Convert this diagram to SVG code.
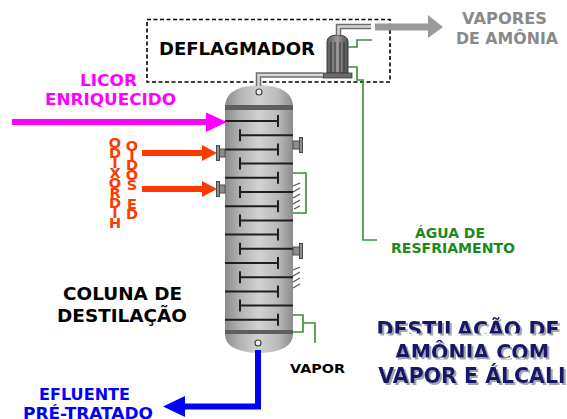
<svg xmlns="http://www.w3.org/2000/svg" width="567" height="419" viewBox="0 0 567 419">
  <defs>
    <linearGradient id="shell" x1="0" y1="0" x2="1" y2="0">
      <stop offset="0" stop-color="#8a8a8a"/>
      <stop offset="0.2" stop-color="#b0b0b0"/>
      <stop offset="0.5" stop-color="#d2d2d2"/>
      <stop offset="0.78" stop-color="#bababa"/>
      <stop offset="1" stop-color="#8c8c8c"/>
    </linearGradient>
    <linearGradient id="cond" x1="0" y1="0" x2="1" y2="0">
      <stop offset="0" stop-color="#5a5a5a"/>
      <stop offset="0.5" stop-color="#9a9a9a"/>
      <stop offset="1" stop-color="#4e4e4e"/>
    </linearGradient>
    <filter id="shadow" x="-5%" y="-20%" width="115%" height="150%">
      <feDropShadow dx="2" dy="2" stdDeviation="0.6" flood-color="#9a9aa4" flood-opacity="0.9"/>
    </filter>
    <clipPath id="cut1"><rect x="360" y="300" width="207" height="33.5"/></clipPath>
    <clipPath id="cut2"><rect x="360" y="338" width="207" height="19.5"/></clipPath>
    <style>
      text { font-family: "DejaVu Sans", Verdana, sans-serif; font-weight: bold; }
      .lbl { font-size: 17px; fill: #000; }
      .pipe-o { fill: none; stroke: #6e6e6e; stroke-width: 5.5; }
      .pipe-i { fill: none; stroke: #d6d6d6; stroke-width: 2.5; }
      .tray { stroke: #1e1e1e; stroke-width: 2; fill: none; }
      .water { fill: none; stroke: #3c8a3c; stroke-width: 1.6; }
      .flange { fill: #8c8c8c; stroke: #4a4a4a; stroke-width: 1; }
      .red { fill: #ff3a00; }
      .redtxt { font-size: 14.5px; fill: #ff3a00; text-anchor: middle; }
      .title { font-size: 20.5px; text-anchor: middle; fill: #16166a; }
    </style>
  </defs>

  <!-- deflagmador enclosure -->
  <g id="deflagmador">
    <rect x="147" y="19.5" width="243" height="62.5" fill="none" stroke="#000" stroke-width="1.6" stroke-dasharray="4,2.5"/>
    <text class="lbl" x="159" y="55" textLength="156" lengthAdjust="spacingAndGlyphs">DEFLAGMADOR</text>
    <!-- condenser -->
    <path d="M327,42 Q327,35 337.5,35 Q348,35 348,42 L348,73 L327,73 Z" fill="url(#cond)" stroke="#3e3e3e" stroke-width="1"/>
    <path d="M331,42 V73 M335,42 V73 M340,42 V73 M344,42 V73" stroke="#2e2e2e" stroke-width="1"/>
    <rect x="323" y="73" width="29" height="5" fill="#6a6a6a" stroke="#3e3e3e" stroke-width="0.8"/>
  </g>

  <!-- distillation column -->
  <g id="coluna">
    <path d="M225,107 Q225,86 259,85 Q293,86 293,107 L293,334 Q293,352 259,353 Q225,352 225,334 Z" fill="url(#shell)"/>
    <rect x="225" y="105" width="68" height="5" fill="#5e5e5e"/>
    <rect x="225" y="330" width="68" height="4" fill="#5e5e5e"/>
    <circle cx="259" cy="92" r="3" fill="#eee" stroke="#444" stroke-width="1.2"/>
    <circle cx="258" cy="343" r="3" fill="#eee" stroke="#444" stroke-width="1.2"/>
    <!-- trays -->
    <path class="tray" d="M225,121 H278 M278,115 V127
      M240,135.2 H293 M240,129.2 V141.2
      M225,149.4 H278 M278,143.4 V155.4
      M240,163.6 H293 M240,157.6 V169.6
      M225,177.8 H278 M278,171.8 V183.8
      M240,192 H293 M240,186 V198
      M225,206.2 H278 M278,200.2 V212.2
      M240,220.4 H293 M240,214.4 V226.4
      M225,234.6 H278 M278,228.6 V240.6
      M240,248.8 H293 M240,242.8 V254.8
      M225,263 H278 M278,257 V269
      M240,277.2 H293 M240,271.2 V283.2
      M225,291.4 H278 M278,285.4 V297.4
      M240,305.6 H293 M240,299.6 V311.6
      M225,319.8 H278 M278,313.8 V325.8"/>
    <!-- side nozzles -->
    <rect class="flange" x="219" y="149" width="6" height="8"/>
    <rect class="flange" x="216.5" y="145.5" width="3" height="15"/>
    <rect class="flange" x="219" y="185" width="6" height="8"/>
    <rect class="flange" x="216.5" y="181.5" width="3" height="15"/>
    <rect class="flange" x="293" y="141" width="7" height="8"/>
    <rect class="flange" x="299.5" y="137.5" width="3" height="15"/>
    <rect class="flange" x="293" y="247" width="7" height="8"/>
    <rect class="flange" x="299.5" y="243.5" width="3" height="15"/>
    <!-- hatched supports -->
    <path d="M293,186 L300,183 M293,192 L300,188 M293,198 L300,194 M293,204 L300,200 M294,209 L300,206" stroke="#555" stroke-width="1.3"/>
    <path d="M293,270 L300,267 M293,276 L300,272 M293,282 L300,278 M293,288 L300,284" stroke="#555" stroke-width="1.3"/>
  </g>

  <!-- connectors -->
  <g id="connectors">
    <!-- overhead vapour line -->
    <path class="pipe-o" d="M258.5,86 V75 H323"/>
    <path class="pipe-i" d="M258.5,86 V75 H323"/>
    <path class="pipe-o" d="M338.5,35 V26.5 H371"/>
    <path class="pipe-i" d="M338.5,35 V26.5 H371"/>
    <!-- ammonia vapour outlet -->
    <rect x="375" y="23.5" width="54" height="7" fill="#9a9a9a"/>
    <polygon points="428,15 443,27 428,38" fill="#9a9a9a"/>
    <!-- cooling water -->
    <path class="water" d="M348,47 H357 V40 H372"/>
    <path class="water" d="M348,67 H357 V80 H363 V240 H377"/>
    <path class="water" d="M293,173 H306 V213 H293"/>
    <path class="water" d="M293,315 H303 V332 H293 M303,323 H315 V343"/>
    <!-- feed liquor -->
    <rect x="12" y="119" width="196" height="6" fill="#ff00ff"/>
    <polygon points="206,112.5 227,122 206,132" fill="#ff00ff"/>
    <!-- alkali feeds -->
    <rect class="red" x="142" y="150" width="62" height="6"/>
    <polygon class="red" points="202,145 217,153 202,161"/>
    <rect class="red" x="142" y="186" width="62" height="6"/>
    <polygon class="red" points="202,181 217,189 202,197"/>
    <!-- pretreated effluent -->
    <path d="M258,350 V406.5 H180" fill="none" stroke="#0000ff" stroke-width="6"/>
    <polygon points="185,396 163,406.5 185,417" fill="#0000ff"/>
  </g>

  <!-- labels -->
  <g id="labels">
    <text x="80" y="86" font-size="16.5" fill="#ff00ff" textLength="57" lengthAdjust="spacingAndGlyphs">LICOR</text>
    <text x="45" y="105" font-size="16.5" fill="#ff00ff" textLength="131" lengthAdjust="spacingAndGlyphs">ENRIQUECIDO</text>

    <!-- stacked vertical lettering, one letter per line -->
    <text class="redtxt"><tspan x="115" y="148">O</tspan><tspan x="115" dy="10">D</tspan><tspan x="115" dy="10">I</tspan><tspan x="115" dy="10">X</tspan><tspan x="115" dy="10">O</tspan><tspan x="115" dy="10">R</tspan><tspan x="115" dy="10">D</tspan><tspan x="115" dy="10">I</tspan><tspan x="115" dy="10">H</tspan></text>
    <text class="redtxt"><tspan x="132" y="151">O</tspan><tspan x="132" dy="10">I</tspan><tspan x="132" dy="9">D</tspan><tspan x="132" dy="10">O</tspan><tspan x="132" dy="10">S</tspan><tspan x="132" dy="19">E</tspan><tspan x="132" dy="10">D</tspan></text>

    <text x="462" y="24" font-size="15" fill="#8a8a8a" textLength="85" lengthAdjust="spacingAndGlyphs">VAPORES</text>
    <text x="456" y="44" font-size="15" fill="#8a8a8a" textLength="102" lengthAdjust="spacingAndGlyphs">DE AMÔNIA</text>

    <text x="415" y="238" font-size="14" fill="#1a8a1a" textLength="70" lengthAdjust="spacingAndGlyphs">ÁGUA DE</text>
    <text x="391" y="253" font-size="14" fill="#1a8a1a" textLength="124" lengthAdjust="spacingAndGlyphs">RESFRIAMENTO</text>

    <text class="lbl" x="63" y="300" textLength="119" lengthAdjust="spacingAndGlyphs">COLUNA DE</text>
    <text class="lbl" x="57" y="322" textLength="130" lengthAdjust="spacingAndGlyphs">DESTILAÇÃO</text>

    <text x="290" y="373" font-size="13" fill="#000" textLength="55" lengthAdjust="spacingAndGlyphs">VAPOR</text>

    <text x="39" y="400" font-size="16" fill="#0000ff" textLength="91" lengthAdjust="spacingAndGlyphs">EFLUENTE</text>
    <text x="23" y="418.5" font-size="16" fill="#0000ff" textLength="130" lengthAdjust="spacingAndGlyphs">PRÉ-TRATADO</text>
  </g>

  <!-- process title -->
  <g id="titulo" filter="url(#shadow)">
    <g clip-path="url(#cut1)">
      <text class="title" x="468" y="337">DESTILAÇÃO DE</text>
    </g>
    <g clip-path="url(#cut2)">
      <text class="title" x="472" y="360">AMÔNIA COM</text>
    </g>
    <text class="title" x="472" y="383">VAPOR E ÁLCALI</text>
  </g>
</svg>
